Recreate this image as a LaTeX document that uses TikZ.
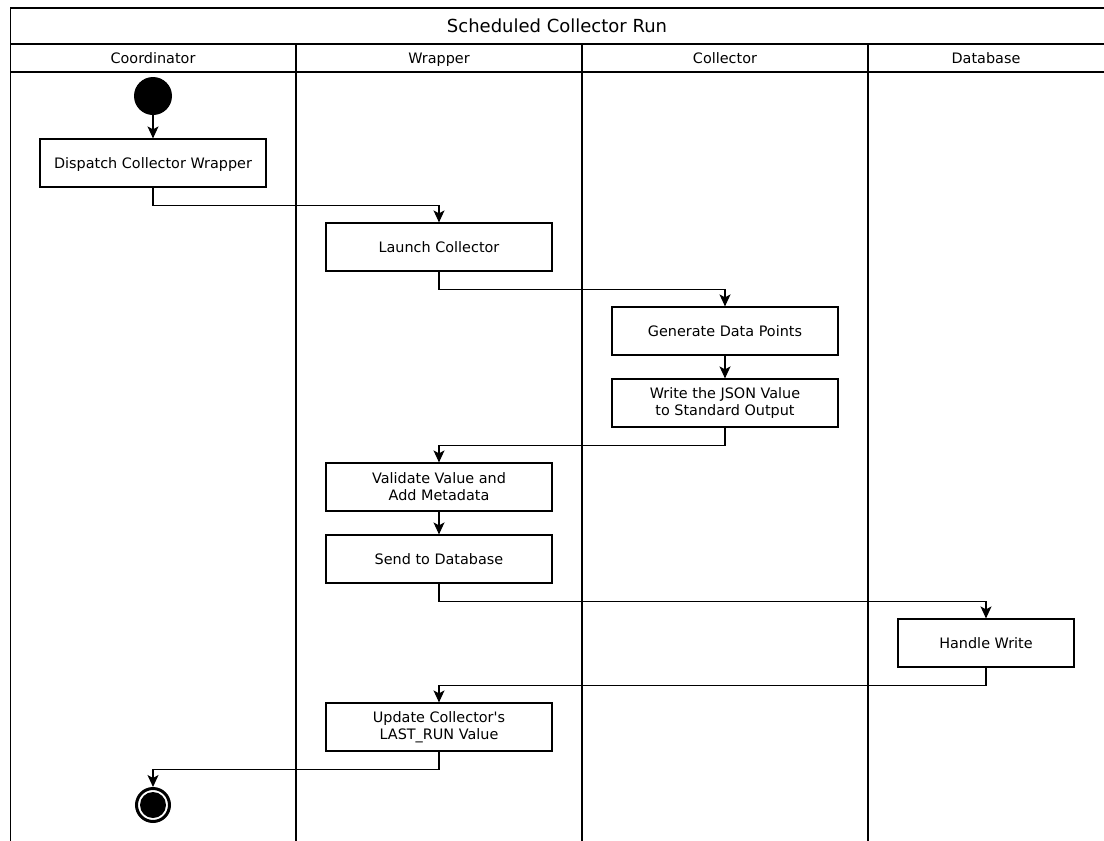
\documentclass[tikz,border=0pt]{standalone}
\usepackage{fontspec}
\setmainfont{DejaVu Sans}
\usetikzlibrary{arrows.meta}
\begin{document}
\begin{tikzpicture}[x=1pt, y=-1pt,
  txt/.style={font=\fontsize{14.4}{17}\selectfont},
  oneline/.style={text height=10.5pt, text depth=0pt},
  act/.style={txt, draw, line width=1.2pt, minimum width=226pt, minimum height=48pt,
    align=center, inner sep=0pt},
  conn/.style={line width=1.2pt, -{Stealth[length=12pt, width=11pt, inset=3pt]}},
  lane/.style={line width=2pt},
  rule/.style={line width=1.6pt}]
\useasboundingbox (0,0) rectangle (1104,841);

% frame, title bar and lane headers
\draw[rule] (10.5,841) -- (10.5,8) -- (1104,8);
\draw[rule] (10.5,44) -- (1104,44);
\draw[rule] (10.5,72) -- (1104,72);
\draw[lane] (296,44) -- (296,841);
\draw[lane] (582,44) -- (582,841);
\draw[lane] (868,44) -- (868,841);

\node[font=\fontsize{18}{21}\selectfont, text height=13pt, text depth=0pt] (title) at (557,26) {Scheduled Collector Run};
\node[txt, oneline] (hcoord) at (153,58) {Coordinator};
\node[txt, oneline] (hwrap) at (439,58) {Wrapper};
\node[txt, oneline] (hcoll) at (725,58) {Collector};
\node[txt, oneline] (hdb) at (986,58) {Database};

% activities
\node[circle, fill=black, minimum size=38pt, inner sep=0pt] (start) at (153,96) {};
\node[act, oneline] (dispatch) at (153,163) {Dispatch Collector Wrapper};
\node[act, oneline] (launch) at (439,247) {Launch Collector};
\node[act, oneline] (generate) at (725,331) {Generate Data Points};
\node[act] (write) at (725,403) {Write the JSON Value\\to Standard Output};
\node[act] (validate) at (439,487) {Validate Value and\\Add Metadata};
\node[act, oneline] (send) at (439,559) {Send to Database};
\node[act, oneline, minimum width=176pt] (handle) at (986,643) {Handle Write};
\node[act] (update) at (439,727) {Update Collector\textquotesingle s\\LAST\_RUN Value};
\node[circle, draw=black, line width=3pt, fill=white, minimum size=33pt, inner sep=0pt] (stop) at (153,805) {};
\node[circle, fill=black, minimum size=26pt, inner sep=0pt] (stopdot) at (stop.center) {};

% control flow
\draw[conn] (start) -- (dispatch);
\draw[conn] (dispatch.south) -- ++(0,18) -| (launch.north);
\draw[conn] (launch.south) -- ++(0,18) -| (generate.north);
\draw[conn] (generate) -- (write);
\draw[conn] (write.south) -- ++(0,18) -| (validate.north);
\draw[conn] (validate) -- (send);
\draw[conn] (send.south) -- ++(0,18) -| (handle.north);
\draw[conn] (handle.south) -- ++(0,18) -| (update.north);
\draw[conn] (update.south) -- ++(0,18) -| (stop.north);
\end{tikzpicture}
\end{document}
